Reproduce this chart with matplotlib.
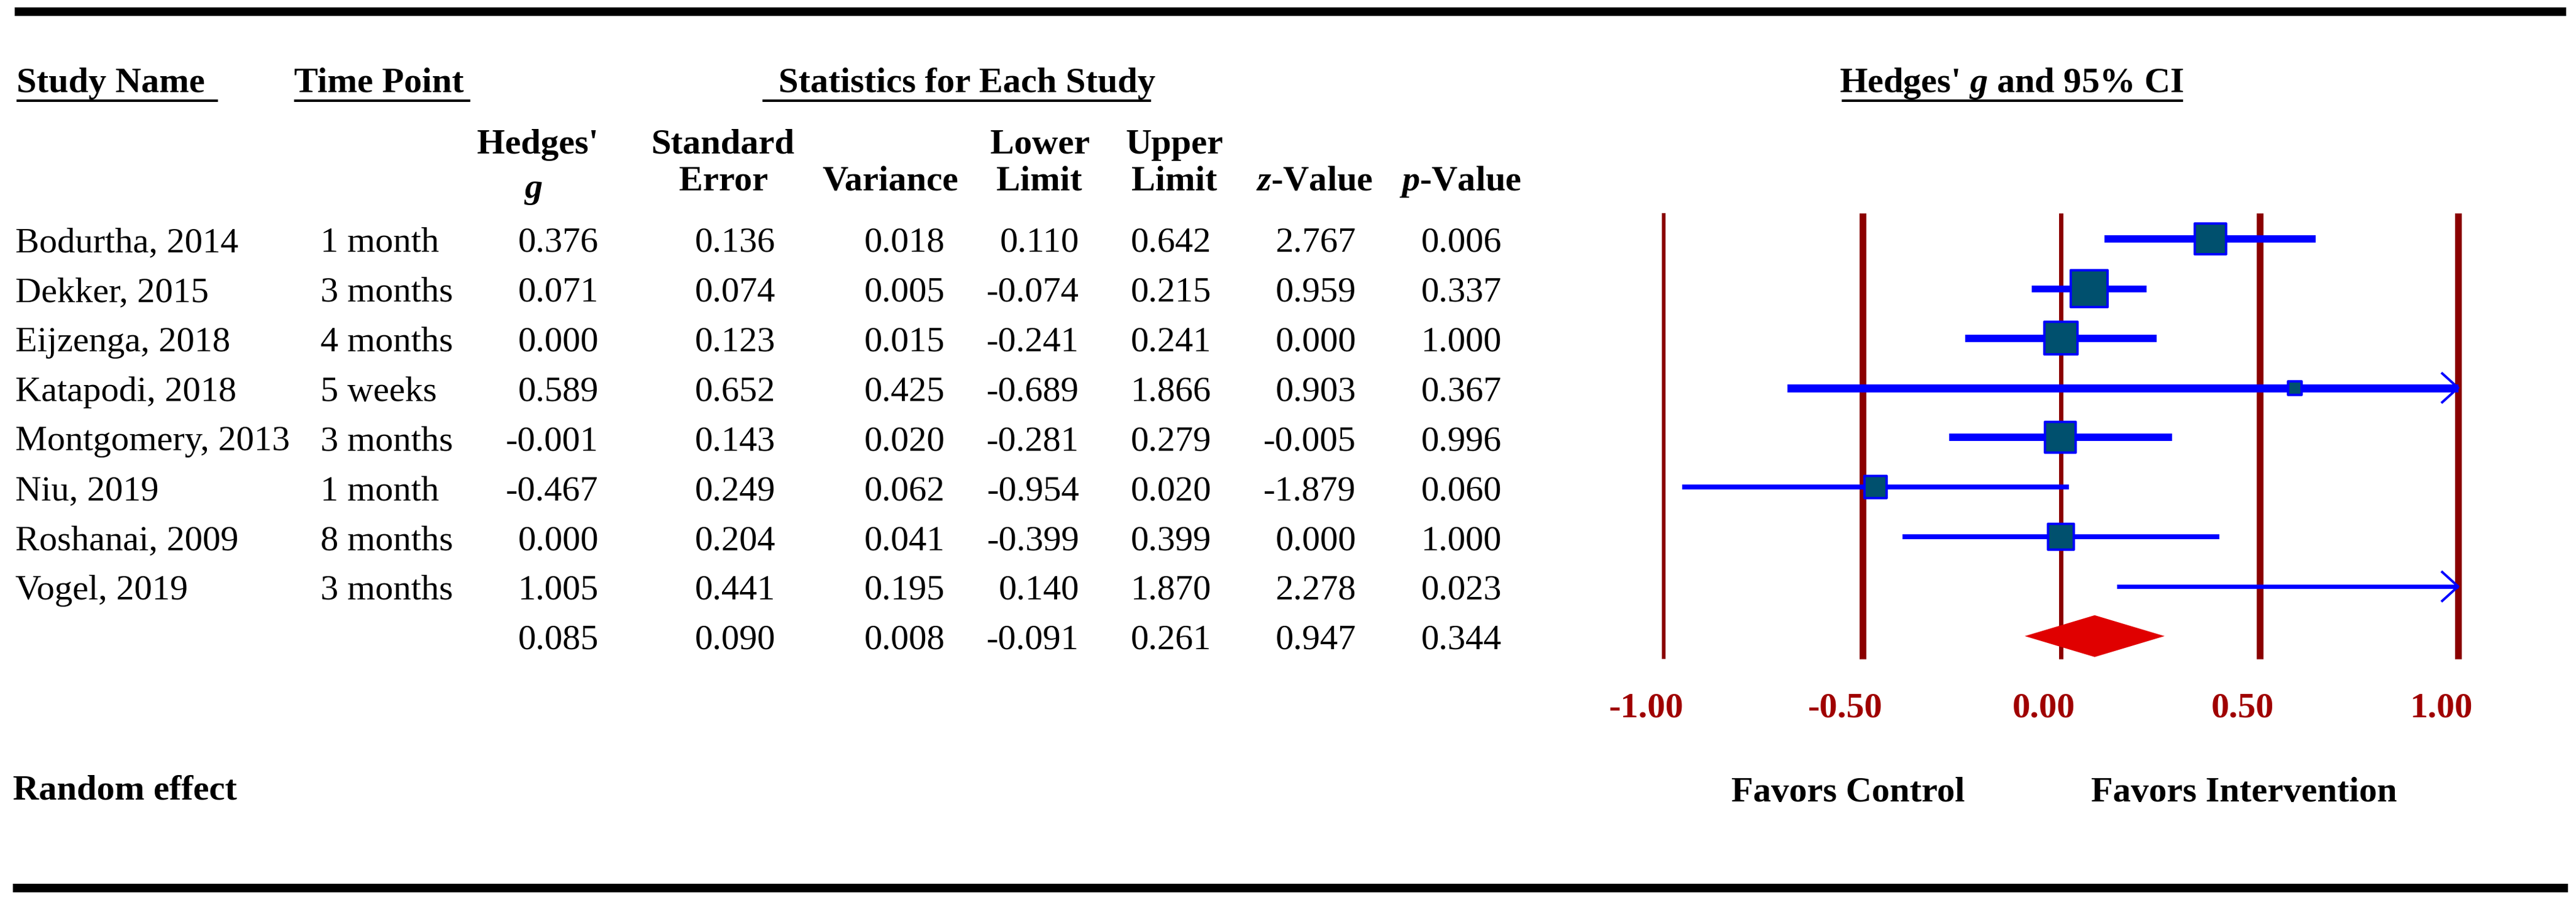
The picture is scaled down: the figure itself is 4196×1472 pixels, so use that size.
import matplotlib
matplotlib.use("Agg")
import matplotlib.pyplot as plt
import matplotlib.transforms as mtransforms
import numpy as np

# -----------------------------
# Data
# -----------------------------
studies = ["Bodurtha, 2014", "Dekker, 2015", "Eijzenga, 2018", "Katapodi, 2018",
           "Montgomery, 2013", "Niu, 2019", "Roshanai, 2009", "Vogel, 2019"]
time_points = ["1 month", "3 months", "4 months", "5 weeks",
               "3 months", "1 month", "8 months", "3 months"]
hedges_g = [0.376, 0.071, 0.000, 0.589, -0.001, -0.467, 0.000, 1.005]
std_err = [0.136, 0.074, 0.123, 0.652, 0.143, 0.249, 0.204, 0.441]
variance = [0.018, 0.005, 0.015, 0.425, 0.020, 0.062, 0.041, 0.195]
lower = [0.110, -0.074, -0.241, -0.689, -0.281, -0.954, -0.399, 0.140]
upper = [0.642, 0.215, 0.241, 1.866, 0.279, 0.020, 0.399, 1.870]
z_value = [2.767, 0.959, 0.000, 0.903, -0.005, -1.879, 0.000, 2.278]
p_value = [0.006, 0.337, 1.000, 0.367, 0.996, 0.060, 1.000, 0.023]
# relative weights (%)
weights = [16.8, 23.1, 18.2, 1.8, 16.2, 8.9, 11.4, 3.6]

summary = [0.085, 0.090, 0.008, -0.091, 0.261, 0.947, 0.344]

ticks = [-1.00, -0.50, 0.00, 0.50, 1.00]

# -----------------------------
# Styles
# -----------------------------
DPI = 100
W, H = 4196, 1472
PX = 72.0 / DPI            # points per pixel
FS = 42
SERIF = "Liberation Serif"

plt.rcParams["font.family"] = [SERIF, "DejaVu Serif"]
plt.rcParams["mathtext.fontset"] = "custom"
plt.rcParams["mathtext.rm"] = SERIF
plt.rcParams["mathtext.it"] = SERIF + ":italic:bold"
plt.rcParams["mathtext.bf"] = SERIF + ":bold"

dark_red = "#8B0000"
tick_red = "#A00000"
box_fill = "#00506E"
blue = "#0000FF"
diamond_red = "#E00000"

fig = plt.figure(figsize=(W / DPI, H / DPI), dpi=DPI)

# background axes in pixel coordinates
bg = fig.add_axes([0, 0, 1, 1])
bg.set_xlim(0, W)
bg.set_ylim(H, 0)
bg.axis("off")

# forest axes: 0 at x=3357 px, 1 unit = 647 px; row 0 at y=389 px, pitch 80.85 px
x_zero, x_unit = 3357, 647
y_row0, y_pitch = 389, 80.85
xlim = (-1.2, 1.2)
ylim = (10.5, -1.5)
left_px = x_zero + xlim[0] * x_unit
right_px = x_zero + xlim[1] * x_unit
top_px = y_row0 + ylim[1] * y_pitch
bot_px = y_row0 + ylim[0] * y_pitch
ax = fig.add_axes([left_px / W, 1 - bot_px / H,
                   (right_px - left_px) / W, (bot_px - top_px) / H])
ax.set_xlim(*xlim)
ax.set_ylim(*ylim)
ax.axis("off")

# -----------------------------
# Rules
# -----------------------------
bg.plot([24, 4180], [19, 19], color="black", lw=14 * PX, solid_capstyle="butt")
bg.plot([21, 4183], [1446, 1446], color="black", lw=14 * PX, solid_capstyle="butt")

# -----------------------------
# Headers
# -----------------------------
hdr = dict(fontsize=FS, fontweight="bold", va="baseline")
bg.text(27, 150, "Study Name", ha="left", **hdr)
bg.text(479, 150, "Time Point", ha="left", **hdr)
bg.text(1575, 150, "Statistics for Each Study", ha="center", **hdr)
bg.text(3277, 150, "Hedges' $g$ and 95% CI", ha="center", **hdr)
for x0, x1 in [(27, 355), (479, 766), (1242, 1875), (3000, 3556)]:
    bg.plot([x0, x1], [164, 164], color="black", lw=4 * PX, solid_capstyle="butt")

col_right = [975, 1263, 1539, 1758, 1973, 2209, 2446]
bg.text(876, 250, "Hedges'", ha="center", **hdr)
bg.text(868, 322, "$g$", ha="center", **hdr)
bg.text(1178, 250, "Standard", ha="center", **hdr)
bg.text(1179, 310, "Error", ha="center", **hdr)
bg.text(1450, 310, "Variance", ha="center", **hdr)
bg.text(1694, 250, "Lower", ha="center", **hdr)
bg.text(1693, 310, "Limit", ha="center", **hdr)
bg.text(1913, 250, "Upper", ha="center", **hdr)
bg.text(1913, 310, "Limit", ha="center", **hdr)
bg.text(2141, 310, "$z$-Value", ha="center", **hdr)
bg.text(2379, 310, "$p$-Value", ha="center", **hdr)

# -----------------------------
# Table rows (x in pixels, y in forest rows)
# -----------------------------
row_trans = mtransforms.offset_copy(
    mtransforms.blended_transform_factory(bg.transData, ax.transData),
    fig=fig, x=0, y=-21, units="dots")
cell = dict(fontsize=FS, va="baseline", transform=row_trans)

for i in range(len(studies)):
    bg.text(25, i, studies[i], ha="left", **cell)
    bg.text(522, i, time_points[i], ha="left", **cell)
    vals = [hedges_g[i], std_err[i], variance[i], lower[i],
            upper[i], z_value[i], p_value[i]]
    for xr, v in zip(col_right, vals):
        bg.text(xr, i, f"{v:.3f}", ha="right", **cell)

n = len(studies)
for xr, v in zip(col_right, summary):
    bg.text(xr, n, f"{v:.3f}", ha="right", **cell)

# -----------------------------
# Forest plot
# -----------------------------
ax.vlines(ticks, -0.52, 8.46, colors=dark_red,
          linewidths=[6 * PX, 11 * PX, 7 * PX, 11 * PX, 11 * PX], zorder=1)

ci_px = [12, 11, 12, 13, 12, 8, 8, 7]
for i in range(n):
    lo = max(lower[i], ticks[0])
    hi = min(upper[i], ticks[-1])
    ax.plot([lo, hi], [i, i], color=blue, lw=ci_px[i] * PX,
            solid_capstyle="butt", zorder=2)
    if upper[i] > ticks[-1]:
        ax.plot([hi - 0.04, hi, hi - 0.04], [i - 0.29, i, i + 0.29],
                color=blue, lw=4 * PX, zorder=2)

rows = np.arange(n)
g = np.array(hedges_g)
w = np.array(weights)
side_px = np.maximum(13.4 * np.sqrt(w), 26)
on_scale = (g >= ticks[0]) & (g <= ticks[-1])
ax.scatter(g[on_scale], rows[on_scale], marker="s",
           s=((side_px[on_scale] - 4) * PX) ** 2,
           facecolor=box_fill, edgecolor=blue, linewidth=4 * PX, zorder=3)

# summary diamond
half_h = 34 / y_pitch
ax.fill([summary[3], summary[0], summary[4], summary[0]],
        [n, n - half_h, n, n + half_h], color=diamond_red, lw=0, zorder=3)

# tick labels
tick_trans = mtransforms.blended_transform_factory(ax.transData, bg.transData)
for t in ticks:
    ax.text(t - 0.043, 1168, f"{t:.2f}", ha="center", va="baseline",
            fontsize=FS, fontweight="bold", color=tick_red, transform=tick_trans)

# -----------------------------
# Footer
# -----------------------------
bg.text(21, 1302, "Random effect", ha="left", **hdr)
bg.text(3010, 1305, "Favors Control", ha="center", **hdr)
bg.text(3655, 1305, "Favors Intervention", ha="center", **hdr)

fig.savefig("out.png", dpi=DPI)
